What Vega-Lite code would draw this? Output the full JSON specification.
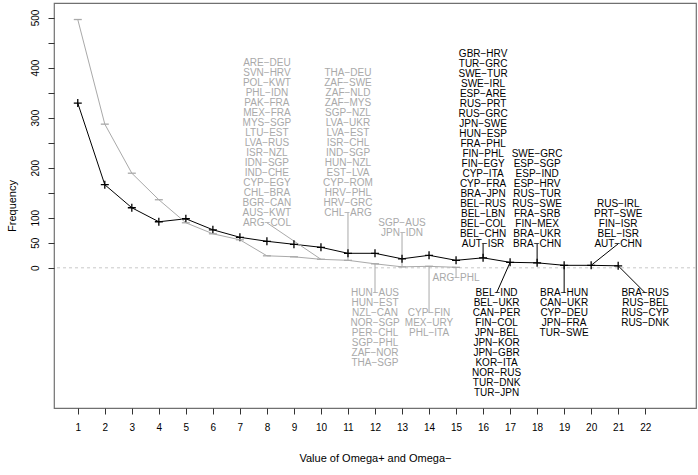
{
  "$schema": "https://vega.github.io/schema/vega-lite/v6.json",
  "width": 642,
  "height": 405,
  "autosize": {"type": "none"},
  "padding": {"left": 54, "top": 3, "right": 2, "bottom": 67},
  "background": "white",
  "config": {
    "view": {"stroke": "#707070", "strokeWidth": 1.2},
    "font": "Liberation Sans",
    "axis": {"labelFont": "Liberation Sans", "titleFont": "Liberation Sans", "titleFontWeight": "normal", "labelColor": "black", "titleColor": "black", "tickColor": "#333333", "grid": false, "domain": false, "labelOverlap": false}
  },
  "datasets": {
    "freq": [
      {"omega": 1, "series": "Omega+", "frequency": 329},
      {"omega": 2, "series": "Omega+", "frequency": 166},
      {"omega": 3, "series": "Omega+", "frequency": 120},
      {"omega": 4, "series": "Omega+", "frequency": 92},
      {"omega": 5, "series": "Omega+", "frequency": 98},
      {"omega": 6, "series": "Omega+", "frequency": 76},
      {"omega": 7, "series": "Omega+", "frequency": 61},
      {"omega": 8, "series": "Omega+", "frequency": 53},
      {"omega": 9, "series": "Omega+", "frequency": 47},
      {"omega": 10, "series": "Omega+", "frequency": 41},
      {"omega": 11, "series": "Omega+", "frequency": 29},
      {"omega": 12, "series": "Omega+", "frequency": 29},
      {"omega": 13, "series": "Omega+", "frequency": 18},
      {"omega": 14, "series": "Omega+", "frequency": 25},
      {"omega": 15, "series": "Omega+", "frequency": 15},
      {"omega": 16, "series": "Omega+", "frequency": 20},
      {"omega": 17, "series": "Omega+", "frequency": 11},
      {"omega": 18, "series": "Omega+", "frequency": 10},
      {"omega": 19, "series": "Omega+", "frequency": 5},
      {"omega": 20, "series": "Omega+", "frequency": 5},
      {"omega": 21, "series": "Omega+", "frequency": 4},
      {"omega": 1, "series": "Omega−", "frequency": 496},
      {"omega": 2, "series": "Omega−", "frequency": 287},
      {"omega": 3, "series": "Omega−", "frequency": 189},
      {"omega": 4, "series": "Omega−", "frequency": 136},
      {"omega": 5, "series": "Omega−", "frequency": 90},
      {"omega": 6, "series": "Omega−", "frequency": 68},
      {"omega": 7, "series": "Omega−", "frequency": 56},
      {"omega": 8, "series": "Omega−", "frequency": 24},
      {"omega": 9, "series": "Omega−", "frequency": 22},
      {"omega": 10, "series": "Omega−", "frequency": 17},
      {"omega": 11, "series": "Omega−", "frequency": 15},
      {"omega": 12, "series": "Omega−", "frequency": 8},
      {"omega": 13, "series": "Omega−", "frequency": 2},
      {"omega": 14, "series": "Omega−", "frequency": 3},
      {"omega": 15, "series": "Omega−", "frequency": 1}
    ],
    "links": [
      {"series": "Omega−", "lx": 8, "ly": 90, "px": 10, "py": 17},
      {"series": "Omega−", "lx": 11, "ly": 110, "px": 11, "py": 15},
      {"series": "Omega−", "lx": 13, "ly": 70, "px": 13, "py": 2},
      {"series": "Omega−", "lx": 12, "ly": -50, "px": 12, "py": 8},
      {"series": "Omega−", "lx": 14, "ly": -90, "px": 14, "py": 3},
      {"series": "Omega−", "lx": 15, "ly": -20, "px": 15, "py": 1},
      {"series": "Omega+", "lx": 16, "ly": 48, "px": 16, "py": 20},
      {"series": "Omega+", "lx": 18, "ly": 48, "px": 18, "py": 10},
      {"series": "Omega+", "lx": 21, "ly": 48, "px": 20, "py": 5},
      {"series": "Omega+", "lx": 16.5, "ly": -50, "px": 17, "py": 11},
      {"series": "Omega+", "lx": 19, "ly": -50, "px": 19, "py": 5},
      {"series": "Omega+", "lx": 22, "ly": -50, "px": 21, "py": 4}
    ],
    "labels": [
      {"series": "Omega−", "lx": 8, "ly": 90, "pair": "ARG−COL"},
      {"series": "Omega−", "lx": 8, "ly": 110, "pair": "AUS−KWT"},
      {"series": "Omega−", "lx": 8, "ly": 130, "pair": "BGR−CAN"},
      {"series": "Omega−", "lx": 8, "ly": 150, "pair": "CHL−BRA"},
      {"series": "Omega−", "lx": 8, "ly": 170, "pair": "CYP−EGY"},
      {"series": "Omega−", "lx": 8, "ly": 190, "pair": "IND−CHE"},
      {"series": "Omega−", "lx": 8, "ly": 210, "pair": "IDN−SGP"},
      {"series": "Omega−", "lx": 8, "ly": 230, "pair": "ISR−NZL"},
      {"series": "Omega−", "lx": 8, "ly": 250, "pair": "LVA−RUS"},
      {"series": "Omega−", "lx": 8, "ly": 270, "pair": "LTU−EST"},
      {"series": "Omega−", "lx": 8, "ly": 290, "pair": "MYS−SGP"},
      {"series": "Omega−", "lx": 8, "ly": 310, "pair": "MEX−FRA"},
      {"series": "Omega−", "lx": 8, "ly": 330, "pair": "PAK−FRA"},
      {"series": "Omega−", "lx": 8, "ly": 350, "pair": "PHL−IDN"},
      {"series": "Omega−", "lx": 8, "ly": 370, "pair": "POL−KWT"},
      {"series": "Omega−", "lx": 8, "ly": 390, "pair": "SVN−HRV"},
      {"series": "Omega−", "lx": 8, "ly": 410, "pair": "ARE−DEU"},
      {"series": "Omega−", "lx": 11, "ly": 110, "pair": "CHL−ARG"},
      {"series": "Omega−", "lx": 11, "ly": 130, "pair": "HRV−GRC"},
      {"series": "Omega−", "lx": 11, "ly": 150, "pair": "HRV−PHL"},
      {"series": "Omega−", "lx": 11, "ly": 170, "pair": "CYP−ROM"},
      {"series": "Omega−", "lx": 11, "ly": 190, "pair": "EST−LVA"},
      {"series": "Omega−", "lx": 11, "ly": 210, "pair": "HUN−NZL"},
      {"series": "Omega−", "lx": 11, "ly": 230, "pair": "IND−SGP"},
      {"series": "Omega−", "lx": 11, "ly": 250, "pair": "ISR−CHL"},
      {"series": "Omega−", "lx": 11, "ly": 270, "pair": "LVA−EST"},
      {"series": "Omega−", "lx": 11, "ly": 290, "pair": "LVA−UKR"},
      {"series": "Omega−", "lx": 11, "ly": 310, "pair": "SGP−NZL"},
      {"series": "Omega−", "lx": 11, "ly": 330, "pair": "ZAF−MYS"},
      {"series": "Omega−", "lx": 11, "ly": 350, "pair": "ZAF−NLD"},
      {"series": "Omega−", "lx": 11, "ly": 370, "pair": "ZAF−SWE"},
      {"series": "Omega−", "lx": 11, "ly": 390, "pair": "THA−DEU"},
      {"series": "Omega−", "lx": 13, "ly": 70, "pair": "JPN−IDN"},
      {"series": "Omega−", "lx": 13, "ly": 90, "pair": "SGP−AUS"},
      {"series": "Omega−", "lx": 12, "ly": -50, "pair": "HUN−AUS"},
      {"series": "Omega−", "lx": 12, "ly": -70, "pair": "HUN−EST"},
      {"series": "Omega−", "lx": 12, "ly": -90, "pair": "NZL−CAN"},
      {"series": "Omega−", "lx": 12, "ly": -110, "pair": "NOR−SGP"},
      {"series": "Omega−", "lx": 12, "ly": -130, "pair": "PER−CHL"},
      {"series": "Omega−", "lx": 12, "ly": -150, "pair": "SGP−PHL"},
      {"series": "Omega−", "lx": 12, "ly": -170, "pair": "ZAF−NOR"},
      {"series": "Omega−", "lx": 12, "ly": -190, "pair": "THA−SGP"},
      {"series": "Omega−", "lx": 14, "ly": -90, "pair": "CYP−FIN"},
      {"series": "Omega−", "lx": 14, "ly": -110, "pair": "MEX−URY"},
      {"series": "Omega−", "lx": 14, "ly": -130, "pair": "PHL−ITA"},
      {"series": "Omega−", "lx": 15, "ly": -20, "pair": "ARG−PHL"},
      {"series": "Omega+", "lx": 16, "ly": 48, "pair": "AUT−ISR"},
      {"series": "Omega+", "lx": 16, "ly": 68, "pair": "BEL−CHN"},
      {"series": "Omega+", "lx": 16, "ly": 88, "pair": "BEL−COL"},
      {"series": "Omega+", "lx": 16, "ly": 108, "pair": "BEL−LBN"},
      {"series": "Omega+", "lx": 16, "ly": 128, "pair": "BEL−RUS"},
      {"series": "Omega+", "lx": 16, "ly": 148, "pair": "BRA−JPN"},
      {"series": "Omega+", "lx": 16, "ly": 168, "pair": "CYP−FRA"},
      {"series": "Omega+", "lx": 16, "ly": 188, "pair": "CYP−ITA"},
      {"series": "Omega+", "lx": 16, "ly": 208, "pair": "FIN−EGY"},
      {"series": "Omega+", "lx": 16, "ly": 228, "pair": "FIN−PHL"},
      {"series": "Omega+", "lx": 16, "ly": 248, "pair": "FRA−PHL"},
      {"series": "Omega+", "lx": 16, "ly": 268, "pair": "HUN−ESP"},
      {"series": "Omega+", "lx": 16, "ly": 288, "pair": "JPN−SWE"},
      {"series": "Omega+", "lx": 16, "ly": 308, "pair": "RUS−GRC"},
      {"series": "Omega+", "lx": 16, "ly": 328, "pair": "RUS−PRT"},
      {"series": "Omega+", "lx": 16, "ly": 348, "pair": "ESP−ARE"},
      {"series": "Omega+", "lx": 16, "ly": 368, "pair": "SWE−IRL"},
      {"series": "Omega+", "lx": 16, "ly": 388, "pair": "SWE−TUR"},
      {"series": "Omega+", "lx": 16, "ly": 408, "pair": "TUR−GRC"},
      {"series": "Omega+", "lx": 16, "ly": 428, "pair": "GBR−HRV"},
      {"series": "Omega+", "lx": 18, "ly": 48, "pair": "BRA−CHN"},
      {"series": "Omega+", "lx": 18, "ly": 68, "pair": "BRA−UKR"},
      {"series": "Omega+", "lx": 18, "ly": 88, "pair": "FIN−MEX"},
      {"series": "Omega+", "lx": 18, "ly": 108, "pair": "FRA−SRB"},
      {"series": "Omega+", "lx": 18, "ly": 128, "pair": "RUS−SWE"},
      {"series": "Omega+", "lx": 18, "ly": 148, "pair": "RUS−TUR"},
      {"series": "Omega+", "lx": 18, "ly": 168, "pair": "ESP−HRV"},
      {"series": "Omega+", "lx": 18, "ly": 188, "pair": "ESP−IND"},
      {"series": "Omega+", "lx": 18, "ly": 208, "pair": "ESP−SGP"},
      {"series": "Omega+", "lx": 18, "ly": 228, "pair": "SWE−GRC"},
      {"series": "Omega+", "lx": 21, "ly": 48, "pair": "AUT−CHN"},
      {"series": "Omega+", "lx": 21, "ly": 68, "pair": "BEL−ISR"},
      {"series": "Omega+", "lx": 21, "ly": 88, "pair": "FIN−ISR"},
      {"series": "Omega+", "lx": 21, "ly": 108, "pair": "PRT−SWE"},
      {"series": "Omega+", "lx": 21, "ly": 128, "pair": "RUS−IRL"},
      {"series": "Omega+", "lx": 16.5, "ly": -50, "pair": "BEL−IND"},
      {"series": "Omega+", "lx": 16.5, "ly": -70, "pair": "BEL−UKR"},
      {"series": "Omega+", "lx": 16.5, "ly": -90, "pair": "CAN−PER"},
      {"series": "Omega+", "lx": 16.5, "ly": -110, "pair": "FIN−COL"},
      {"series": "Omega+", "lx": 16.5, "ly": -130, "pair": "JPN−BEL"},
      {"series": "Omega+", "lx": 16.5, "ly": -150, "pair": "JPN−KOR"},
      {"series": "Omega+", "lx": 16.5, "ly": -170, "pair": "JPN−GBR"},
      {"series": "Omega+", "lx": 16.5, "ly": -190, "pair": "KOR−ITA"},
      {"series": "Omega+", "lx": 16.5, "ly": -210, "pair": "NOR−RUS"},
      {"series": "Omega+", "lx": 16.5, "ly": -230, "pair": "TUR−DNK"},
      {"series": "Omega+", "lx": 16.5, "ly": -250, "pair": "TUR−JPN"},
      {"series": "Omega+", "lx": 19, "ly": -50, "pair": "BRA−HUN"},
      {"series": "Omega+", "lx": 19, "ly": -70, "pair": "CAN−UKR"},
      {"series": "Omega+", "lx": 19, "ly": -90, "pair": "CYP−DEU"},
      {"series": "Omega+", "lx": 19, "ly": -110, "pair": "JPN−FRA"},
      {"series": "Omega+", "lx": 19, "ly": -130, "pair": "TUR−SWE"},
      {"series": "Omega+", "lx": 22, "ly": -50, "pair": "BRA−RUS"},
      {"series": "Omega+", "lx": 22, "ly": -70, "pair": "RUS−BEL"},
      {"series": "Omega+", "lx": 22, "ly": -90, "pair": "RUS−CYP"},
      {"series": "Omega+", "lx": 22, "ly": -110, "pair": "RUS−DNK"}
    ],
    "zero": [{"level": 0}]
  },
  "layer": [
    {
      "data": {"name": "zero"},
      "mark": {"type": "rule", "color": "#c8c8c8", "strokeDash": [3, 3], "strokeWidth": 1},
      "encoding": {
        "y": {"field": "level", "type": "quantitative", "scale": {"domain": [-280, 529], "nice": false, "zero": false},
          "axis": {"title": "Frequency", "values": [0, 50, 100, 150, 200, 250, 300, 350, 400, 450, 500], "tickCount": 40,
            "labelExpr": "indexof([0,50,100,200,300,400,500], datum.value) >= 0 ? datum.label : ''",
            "labelAngle": -90, "labelAlign": "center", "labelBaseline": "bottom", "labelFontSize": 10, "labelPadding": 8,
            "labelOverlap": false, "tickSize": 6, "titleFontSize": 11, "titlePadding": 13}}
      }
    },
    {
      "data": {"name": "freq"},
      "mark": {"type": "line", "strokeWidth": 1},
      "encoding": {
        "x": {"field": "omega", "type": "quantitative", "scale": {"domain": [0.12, 23.88], "nice": false, "zero": false},
          "axis": {"title": "Value of Omega+ and Omega−", "values": [1,2,3,4,5,6,7,8,9,10,11,12,13,14,15,16,17,18,19,20,21,22], "tickCount": 40,
            "format": "d", "labelFontSize": 10, "labelPadding": 8, "tickSize": 6, "titleFontSize": 11, "titlePadding": 20,
            "labelFlush": false, "labelOverlap": false, "labelBound": false, "labelSeparation": 0}},
        "y": {"field": "frequency", "type": "quantitative"},
        "color": {"field": "series", "type": "nominal", "scale": {"domain": ["Omega+", "Omega−"], "range": ["#000000", "#a9a9a9"]}, "legend": null},
        "detail": {"field": "series"},
        "order": {"field": "omega"}
      }
    },
    {
      "data": {"name": "links"},
      "mark": {"type": "rule", "strokeWidth": 1},
      "encoding": {
        "x": {"field": "lx", "type": "quantitative"},
        "y": {"field": "ly", "type": "quantitative"},
        "x2": {"field": "px"},
        "y2": {"field": "py"},
        "color": {"field": "series", "type": "nominal", "legend": null}
      }
    },
    {
      "data": {"name": "freq"},
      "mark": {"type": "point", "filled": false, "size": 64, "strokeWidth": 1.3, "opacity": 1},
      "encoding": {
        "x": {"field": "omega", "type": "quantitative"},
        "y": {"field": "frequency", "type": "quantitative"},
        "color": {"field": "series", "type": "nominal", "legend": null},
        "shape": {"field": "series", "type": "nominal", "scale": {"domain": ["Omega+", "Omega−"], "range": ["M-1,0H1M0,-1V1", "M-1,0H1"]}, "legend": null}
      }
    },
    {
      "data": {"name": "labels"},
      "mark": {"type": "text", "font": "Liberation Sans", "fontSize": 10, "align": "center", "baseline": "middle"},
      "encoding": {
        "x": {"field": "lx", "type": "quantitative"},
        "y": {"field": "ly", "type": "quantitative"},
        "text": {"field": "pair"},
        "color": {"field": "series", "type": "nominal", "legend": null}
      }
    }
  ]
}
